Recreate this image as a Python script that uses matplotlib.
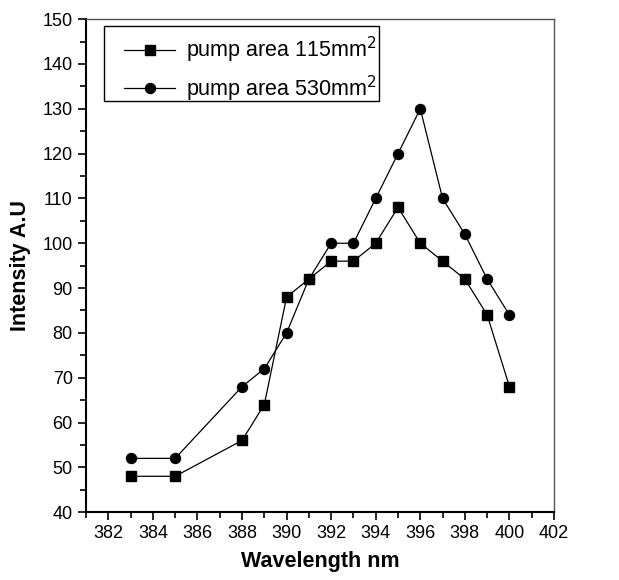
import matplotlib
matplotlib.use("Agg")
import matplotlib.pyplot as plt
from matplotlib.ticker import MultipleLocator
from matplotlib.patches import Rectangle

plt.rcParams['font.family'] = ['Liberation Sans', 'DejaVu Sans']

wavelength = [383, 385, 388, 389, 390, 391, 392, 393, 394, 395, 396, 397, 398, 399, 400]
area_115 = [48, 48, 56, 64, 88, 92, 96, 96, 100, 108, 100, 96, 92, 84, 68]
area_530 = [52, 52, 68, 72, 80, 92, 100, 100, 110, 120, 130, 110, 102, 92, 84]
labels = ["pump area 115mm$^2$", "pump area 530mm$^2$"]

fig = plt.figure(figsize=(6.19, 5.8), dpi=100)
ax = fig.add_axes([0.139, 0.117, 0.756, 0.85])

ax.plot(wavelength, area_115, color='black', lw=0.9, marker='s', ms=6.5, label=labels[0])
ax.plot(wavelength, area_530, color='black', lw=0.9, marker='o', ms=7.2, label=labels[1])

ax.set_xlim(381, 402)
ax.set_ylim(40, 150)
ax.xaxis.set_minor_locator(MultipleLocator(1))
ax.yaxis.set_major_locator(MultipleLocator(10))
ax.yaxis.set_minor_locator(MultipleLocator(5))
ax.set_xticks(range(382, 403, 2))
ax.tick_params(which='major', direction='out', length=6, width=1.2, labelsize=13, colors='black')
ax.tick_params(which='minor', direction='out', length=4, width=1.2)
for s in ['left', 'bottom']:
    ax.spines[s].set_linewidth(1.5)
for s in ['top', 'right']:
    ax.spines[s].set_linewidth(1.0)
    ax.spines[s].set_color('#555555')

ax.set_xlabel("Wavelength nm", fontsize=15.5, fontweight='bold', labelpad=6)
ax.set_ylabel("Intensity A.U", fontsize=15.5, fontweight='bold', labelpad=8)

leg = ax.legend(loc='upper left', bbox_to_anchor=(0.06, 0.988), borderaxespad=0,
                fontsize=15.5, frameon=False,
                handlelength=2.4, handletextpad=0.5, borderpad=0.45, labelspacing=0.4)
# legend frame drawn separately to match the reference's tighter bottom padding
ax.add_patch(Rectangle((0.0385, 0.834), 0.5875, 0.152, transform=ax.transAxes,
                       fill=False, edgecolor='black', lw=1.0, zorder=5, clip_on=False))

fig.savefig("out.png", dpi=100)
